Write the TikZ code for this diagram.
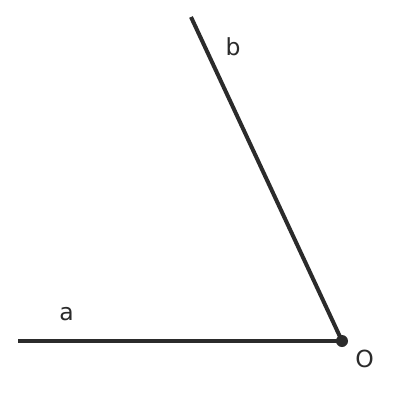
\documentclass[tikz,border=0pt]{standalone}
\usepackage{fontspec}
\setmainfont{DejaVu Sans}
\definecolor{ink}{HTML}{2B2B2B}
\begin{document}
\begin{tikzpicture}[x=1pt,y=-1pt,
  ray/.style={draw=ink,line width=4pt},
  lbl/.style={text=ink,font=\fontsize{23.5}{28}\selectfont,inner sep=0pt}]
\useasboundingbox[fill=white] (0,0) rectangle (413,413);
\coordinate (O) at (342,341);
\coordinate (A) at (18,341);
\coordinate (B) at (191,17);
\draw[ray] (A) -- (O);
\draw[ray] (B) -- (O);
\fill[ink] (O) circle (6);
\node[lbl] (lO) at (364.5,359) {O};
\node[lbl] (la) at (66.5,314.5) {a};
\node[lbl] (lb) at (233,46.5) {b};
\end{tikzpicture}
\end{document}
